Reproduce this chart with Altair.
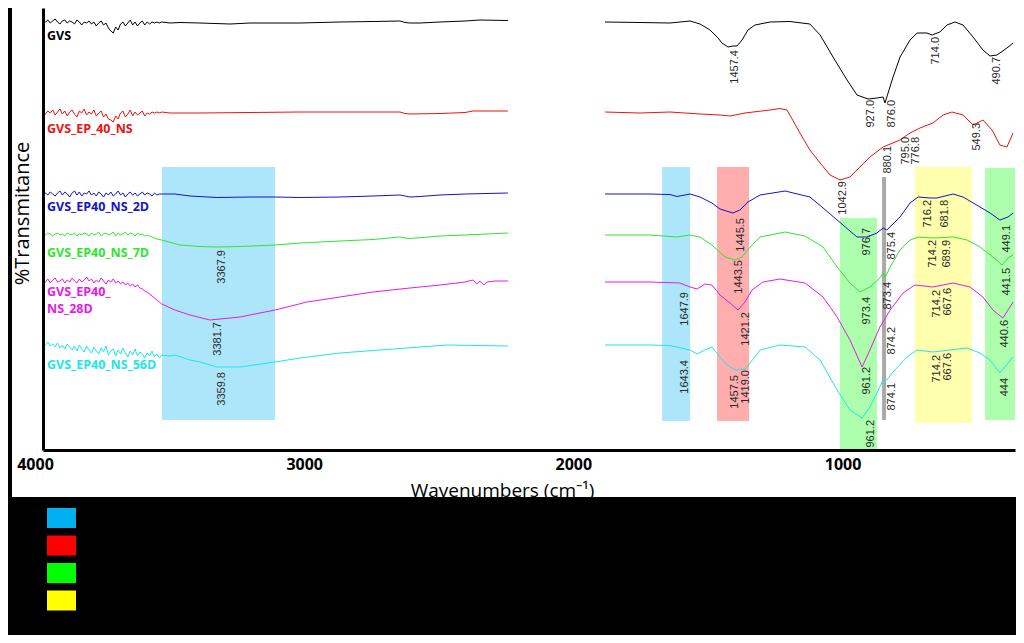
import altair as alt
import pandas as pd

# ---------------- data ----------------
series_names = ["GVS", "GVS_EP_40_NS", "GVS_EP40_NS_2D", "GVS_EP40_NS_7D",
                "GVS_EP40_NS_28D", "GVS_EP40_NS_56D"]
series_colors = ["#000000", "#ee1111", "#1414c8", "#2ee62e", "#e61ae6", "#1ee6e6"]

# wavenumber grid of the noisy high-wavenumber stretch (4000 -> 3559 cm-1)
noise_w = list(range(4000, 3550, -9))

# GVS
gvs_noise_t = [429, 428, 430, 427, 429, 431, 428, 426, 429, 430, 427, 429, 428, 426, 430, 428, 425,
               428, 427, 429, 426, 428, 424, 427, 429, 425, 427, 422, 419, 417, 423, 420, 426, 428,
               424, 427, 430, 425, 428, 424, 427, 429, 425, 428, 426, 428, 427, 428, 427, 428]
gvs_tail_w = [3528, 3491, 3417, 3305, 3231, 3045, 2897, 2774, 2674, 2655, 2637, 2599, 2525, 2432,
              2377, 2273]
gvs_tail_t = [427, 427.5, 427, 426, 427, 427, 428, 428.5, 429, 427.5, 427, 427, 428, 429, 430,
              429.5]
gvs_right_w = [1912, 1782, 1671, 1596, 1559, 1522, 1492, 1478, 1455, 1437, 1422, 1403, 1381, 1355,
               1299, 1225, 1151, 1113, 1065, 1013, 976, 935, 902, 879, 872, 865, 842, 816, 779,
               753, 716, 697, 668, 642, 612, 582, 545, 508, 482, 456, 419, 396]
gvs_right_t = [428, 427.5, 427, 429, 426, 420, 412, 407, 403, 404, 404, 410, 420, 425, 428, 428.5,
               426, 415, 393, 370, 355, 351, 352, 353, 347, 353, 373, 393, 410, 417, 417, 415,
               418, 425, 428, 425, 413, 400, 394, 395, 402, 407]

# GVS_EP_40_NS
ep_noise_t = [338, 336, 339, 337, 340, 335, 338, 341, 336, 339, 334, 338, 340, 336, 333, 339, 337,
              341, 335, 338, 336, 340, 334, 337, 339, 333, 336, 331, 330, 328, 334, 331, 337, 339,
              333, 336, 340, 334, 338, 335, 337, 339, 334, 337, 336, 338, 337, 338, 337, 338]
ep_tail_w = [3528, 3417, 3231, 3045, 2774, 2674, 2655, 2637, 2525, 2432, 2403, 2273]
ep_tail_t = [337, 337, 337.5, 338, 338, 338, 336.5, 336, 336.5, 337.5, 339, 339]
ep_right_w = [1912, 1782, 1671, 1559, 1485, 1448, 1392, 1299, 1262, 1236, 1188, 1151, 1113, 1076,
              1039, 1002, 965, 928, 879, 816, 790, 779, 742, 694, 656, 623, 582, 545, 508, 474,
              445, 419, 396]
ep_right_t = [338, 337, 338, 336, 335, 334, 337, 340, 341.5, 340, 317, 300, 287, 275, 270, 273,
              283, 293, 303, 310, 315, 317, 322, 327, 335, 338, 335, 325, 330, 320, 305, 303, 317]

# GVS_EP40_NS_2D
d2_noise_t = [256, 257, 255, 258, 256, 254, 257, 259, 255, 258, 256, 253, 257, 259, 255, 258, 254,
              257, 256, 259, 255, 257, 254, 258, 256, 253, 257, 255, 258, 254, 256, 259, 255, 257,
              253, 256, 258, 255, 257, 254, 256, 258, 255, 257, 256, 254, 257, 255, 256, 256]
d2_tail_w = [3510, 3454, 3354, 3231, 3138, 3045, 2897, 2774, 2674, 2655, 2637, 2599, 2525, 2432,
             2273]
d2_tail_t = [256, 254, 252.5, 253, 253, 252.5, 253, 254, 255, 254, 253, 253.5, 255, 256, 257]
d2_right_w = [1912, 1745, 1671, 1645, 1596, 1559, 1515, 1485, 1437, 1411, 1381, 1336, 1243, 1151,
              1102, 1028, 976, 939, 902, 879, 865, 816, 779, 749, 705, 679, 619, 582, 519, 482,
              445, 415, 396]
d2_right_t = [256, 256, 255.5, 253.5, 256, 253, 247, 241, 237, 240, 248, 255, 259, 253, 242, 225,
              213, 213, 217, 222, 220, 233, 247, 253, 252, 252, 256, 253, 243, 237, 230, 233, 237]

# GVS_EP40_NS_7D
d7_noise_t = [216, 215, 217, 216, 214, 216, 217, 215, 216, 214, 217, 216, 215, 217, 214, 216, 215,
              217, 216, 214, 217, 215, 216, 218, 214, 216, 217, 215, 216, 218, 214, 217, 215, 216,
              218, 215, 217, 216, 214, 217, 215, 216, 214, 215, 214, 213, 212, 211, 210.5, 210]
d7_tail_w = [3491, 3417, 3354, 3268, 3138, 3045, 2897, 2774, 2674, 2655, 2637, 2525, 2432, 2273]
d7_tail_t = [205, 203.5, 203, 203.5, 205, 207, 209, 210.5, 213, 212, 211.5, 214, 215, 217]
d7_right_w = [1912, 1745, 1645, 1596, 1559, 1515, 1466, 1429, 1403, 1373, 1336, 1243, 1169, 1102,
              1050, 1002, 965, 928, 891, 879, 872, 853, 816, 779, 749, 694, 619, 567, 519, 471,
              437, 415, 396]
d7_right_t = [215, 215, 213, 215, 213, 205, 193, 190, 193, 203, 213, 218, 214, 203, 183, 167, 158,
              163, 172, 177, 172, 183, 200, 210, 213, 212, 213, 210, 203, 193, 185, 192, 195]

# GVS_EP40_NS_28D
d28_noise_t = [170, 168, 171, 167, 170, 172, 168, 169, 171, 167, 170, 168, 172, 169, 167, 171, 168,
               170, 173, 169, 171, 167, 170, 168, 172, 169, 166, 170, 168, 171, 167, 169, 166, 168,
               165, 167, 164, 166, 163, 165, 162, 161, 159, 158, 156, 154, 152, 150, 148, 146]
d28_tail_w = [3510, 3454, 3380, 3268, 3138, 3019, 2897, 2774, 2637, 2525, 2432, 2403, 2388, 2377,
              2362, 2351, 2321, 2273]
d28_tail_t = [140, 135, 130, 133, 140, 148, 153, 158, 162, 165, 168, 170, 166, 169, 165, 168, 169,
              169]
d28_right_w = [1912, 1745, 1634, 1596, 1570, 1541, 1515, 1485, 1448, 1418, 1392, 1366, 1325, 1262,
               1169, 1102, 1050, 1002, 957, 928, 891, 879, 853, 805, 761, 694, 619, 556, 508,
               471, 434, 415, 396]
d28_right_t = [168, 168, 167, 163, 161, 166, 165, 155, 147, 140, 148, 160, 168, 171, 167, 153, 133,
               110, 83, 100, 123, 128, 140, 157, 165, 163, 167, 163, 153, 140, 132, 140, 148]

# GVS_EP40_NS_56D
d56_noise_t = [107, 105, 108, 104, 106, 103, 107, 102, 105, 101, 106, 103, 100, 104, 99, 105, 101,
               98, 104, 100, 97, 103, 99, 96, 102, 98, 104, 95, 99, 101, 94, 100, 96, 102, 97, 93,
               99, 95, 101, 94, 98, 96, 92, 97, 94, 99, 93, 96, 92, 95]
d56_tail_w = [3528, 3510, 3454, 3417, 3354, 3268, 3138, 3045, 2897, 2648, 2499, 2273]
d56_tail_t = [94, 95, 90, 88, 83, 83, 88, 92, 97, 102, 105, 104]
d56_right_w = [1912, 1745, 1671, 1596, 1570, 1541, 1515, 1485, 1459, 1429, 1392, 1373, 1336, 1262,
               1169, 1113, 1050, 1002, 957, 928, 891, 879, 865, 842, 790, 753, 694, 630, 567,
               519, 482, 445, 415, 396]
d56_right_t = [105, 105, 104.5, 100, 96, 100, 103, 93, 85, 80, 81, 87, 100, 105, 103, 90, 60, 40,
               32, 43, 63, 70, 70, 78, 93, 100, 98, 100, 102, 97, 90, 77, 87, 93]

# highlighted bands
group_names = ["O–H", "C–H", "Si–O", "M–O"]
group_colors = ["#00b0f0", "#ff0000", "#00ff00", "#ffff00"]
band_group = ["O–H", "O–H", "C–H", "Si–O", "M–O", "Si–O"]
band_w_start = [3558, 1700, 1496, 1039, 761, 500]
band_w_end = [3138, 1596, 1377, 902, 549, 389]
band_t_top = [283, 283, 283, 232, 283, 282]
band_t_bottom = [30, 29, 29, 0, 27, 30]
gray_w_start = [883]
gray_w_end = [868]
gray_t_top = [273]
gray_t_bottom = [30]

# sample names
name_text = ["GVS", "GVS_EP_40_NS", "GVS_EP40_NS_2D", "GVS_EP40_NS_7D", "GVS_EP40_", "NS_28D",
             "GVS_EP40_NS_56D"]
name_series = ["GVS", "GVS_EP_40_NS", "GVS_EP40_NS_2D", "GVS_EP40_NS_7D", "GVS_EP40_NS_28D",
               "GVS_EP40_NS_28D", "GVS_EP40_NS_56D"]
name_w = [3985, 3985, 3985, 3985, 3985, 3985, 3985]
name_t = [414, 321, 243, 197, 158, 141, 85]

# peak annotations
peak_text = ["1457.4", "927.0", "876.0", "714.0", "490.7", "1042.9", "880.1", "795.0", "776.8",
             "549.3", "1445.5", "1443.5", "1647.9", "1421.2", "1643.4", "1457.5", "1419.0",
             "976.7", "875.4", "973.4", "873.4", "961.2", "874.2", "961.2", "874.1", "716.2",
             "681.8", "714.2", "689.9", "714.2", "667.6", "714.2", "667.6", "449.1", "441.5",
             "440.6", "444", "3367.9", "3381.7", "3359.8"]
peak_w = [1429, 924, 846, 683, 456, 1028, 861, 794, 757, 530, 1407, 1414, 1615, 1388, 1615, 1429,
          1388, 939, 846, 939, 861, 939, 846, 924, 846, 712, 649, 694, 642, 679, 638, 679, 638,
          419, 419, 426, 426, 3335, 3350, 3335]
peak_t = [400, 350, 350, 413, 393, 269, 304, 313, 313, 327, 232, 190, 158, 138, 90, 75, 80, 222,
          218, 153, 168, 83, 123, 30, 67, 250, 250, 210, 210, 160, 162, 95, 97, 225, 182, 130, 72,
          200, 128, 78]

# ---------------- tables ----------------
def seg(name, part, ws, ts):
    df = pd.DataFrame({"wavenumber": ws, "transmittance": ts})
    df["series"] = name
    df["segment"] = part
    return df

lines_df = pd.concat([
    seg("GVS", "a", noise_w + gvs_tail_w, gvs_noise_t + gvs_tail_t),
    seg("GVS", "b", gvs_right_w, gvs_right_t),
    seg("GVS_EP_40_NS", "a", noise_w + ep_tail_w, ep_noise_t + ep_tail_t),
    seg("GVS_EP_40_NS", "b", ep_right_w, ep_right_t),
    seg("GVS_EP40_NS_2D", "a", noise_w + d2_tail_w, d2_noise_t + d2_tail_t),
    seg("GVS_EP40_NS_2D", "b", d2_right_w, d2_right_t),
    seg("GVS_EP40_NS_7D", "a", noise_w + d7_tail_w, d7_noise_t + d7_tail_t),
    seg("GVS_EP40_NS_7D", "b", d7_right_w, d7_right_t),
    seg("GVS_EP40_NS_28D", "a", noise_w + d28_tail_w, d28_noise_t + d28_tail_t),
    seg("GVS_EP40_NS_28D", "b", d28_right_w, d28_right_t),
    seg("GVS_EP40_NS_56D", "a", noise_w + d56_tail_w, d56_noise_t + d56_tail_t),
    seg("GVS_EP40_NS_56D", "b", d56_right_w, d56_right_t),
], ignore_index=True)

bands_df = pd.DataFrame({"group": band_group, "w1": band_w_start, "w2": band_w_end,
                         "t1": band_t_top, "t2": band_t_bottom})
gray_df = pd.DataFrame({"w1": gray_w_start, "w2": gray_w_end, "t1": gray_t_top, "t2": gray_t_bottom})
names_df = pd.DataFrame({"label": name_text, "series": name_series, "w": name_w, "t": name_t})
peaks_df = pd.DataFrame({"label": peak_text, "w": peak_w, "t": peak_t})

# ---------------- scales / axes ----------------
x_scale = alt.Scale(domain=[389, 4000], reverse=True, nice=False, zero=False)
y_scale = alt.Scale(domain=[0, 442], nice=False, zero=False)
color_scale = alt.Scale(domain=series_names, range=series_colors)

x_axis = alt.Axis(values=[4000, 3000, 2000, 1000], format="d", ticks=False, grid=False,
                  domainColor="black", domainWidth=3, labelFont="Open Sans",
                  labelFontWeight="bold", labelFontSize=16, labelColor="black",
                  labelPadding=6, labelOffset=-8, labelFlush=False,
                  title="Wavenumbers (cm⁻¹)", titleFont="Open Sans", titleFontSize=19,
                  titleFontWeight="normal", titleColor="black", titleX=459, titleY=46,
                  titleAlign="center", titleBaseline="alphabetic", zindex=1)
y_axis = alt.Axis(labels=False, ticks=False, grid=False, domainColor="black", domainWidth=3,
                  title="%Transmitance", titleFont="Open Sans", titleFontSize=20,
                  titleFontWeight="normal", titleColor="black", titleAngle=270,
                  titleX=-21, titleY=205, titleAlign="center", titleBaseline="middle", zindex=1)

# ---------------- layers ----------------
panel = alt.Chart(pd.DataFrame({"p": [0]})).mark_rect(color="white").encode(
    x=alt.value(-31), x2=alt.value(981), y=alt.value(0), y2=alt.value(489))

bands = alt.Chart(bands_df).mark_rect(opacity=0.32).encode(
    x=alt.X("w1:Q", scale=x_scale, axis=x_axis),
    x2="w2:Q",
    y=alt.Y("t1:Q", scale=y_scale, axis=y_axis),
    y2="t2:Q",
    fill=alt.Fill("group:N", scale=alt.Scale(domain=group_names, range=group_colors),
                  legend=alt.Legend(title=None, orient="none", legendX=8.5, legendY=500,
                                    direction="vertical",
                                    symbolType="M-1.45,-1H1.45V1H-1.45Z", symbolSize=400,
                                    symbolOpacity=1, symbolStrokeWidth=0, rowPadding=7.5,
                                    labelColor="black", labelFontSize=11)),
)

gray = alt.Chart(gray_df).mark_rect(color="#aaaaaa").encode(
    x=alt.X("w1:Q", scale=x_scale, axis=x_axis), x2="w2:Q",
    y=alt.Y("t1:Q", scale=y_scale, axis=y_axis), y2="t2:Q")

lines = alt.Chart(lines_df).mark_line(strokeWidth=1.0).encode(
    x=alt.X("wavenumber:Q", scale=x_scale, axis=x_axis),
    y=alt.Y("transmittance:Q", scale=y_scale, axis=y_axis),
    color=alt.Color("series:N", scale=color_scale, legend=None),
    detail="segment:N",
)

names = alt.Chart(names_df).mark_text(align="left", baseline="middle", font="Open Sans",
                                      fontWeight="bold", fontSize=12.5).encode(
    x=alt.X("w:Q", scale=x_scale, axis=x_axis),
    y=alt.Y("t:Q", scale=y_scale, axis=y_axis),
    text="label:N",
    color=alt.Color("series:N", scale=color_scale, legend=None),
)

peaks = alt.Chart(peaks_df).mark_text(angle=270, align="right", baseline="middle",
                                      font="Liberation Sans", fontSize=11,
                                      color="#2a2a2a").encode(
    x=alt.X("w:Q", scale=x_scale, axis=x_axis),
    y=alt.Y("t:Q", scale=y_scale, axis=y_axis),
    text="label:N",
)

chart = alt.layer(panel, bands, gray, lines, names, peaks).properties(
    width=972, height=442,
    padding={"left": 35, "top": 0, "right": 1, "bottom": 185},
    autosize=alt.AutoSizeParams(type="none"),
    background="black",
).configure_view(strokeWidth=0)

chart.save("out.html", embed_options={"renderer": "svg", "actions": False})
